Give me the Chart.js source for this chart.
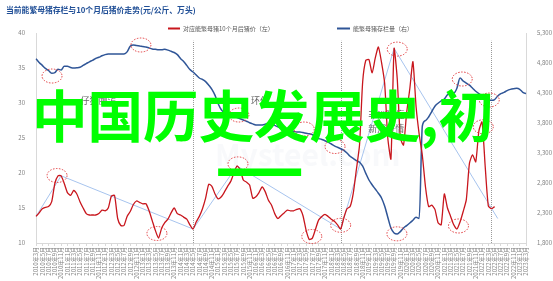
<!DOCTYPE html>
<html>
<head>
<meta charset="utf-8">
<script src="https://cdn.jsdelivr.net/npm/chart.js@4.4.0/dist/chart.umd.min.js"></script>
<style>
  html, body { margin: 0; padding: 0; background: #fff; }
</style>
</head>
<body>
<canvas id="chart" width="553" height="281"></canvas>
<script>
// Monthly categories, 2010年3月 .. 2023年3月 (every other one is labelled)
const months = [];
for (let k = 0; k <= 156; k++) {
  const t = 2 + k;
  months.push(`${2010 + Math.floor(t / 12)}年${(t % 12) + 1}月`);
}

// 对应能繁母猪10个月后猪价（左）, yuan/kg
const priceData = [
  13.8, 14.3, 14.9, 15.1, 15.2, 15.9, 18.5, 19.6, 19.6, 18.5,
  17.2, 16.8, 17.5, 17.0, 15.9, 15.0, 14.2, 14.0, 14.0, 14.0,
  14.2, 14.7, 14.6, 15.0, 16.7, 16.8, 13.5, 12.5, 12.5, 13.8,
  14.5, 15.5, 16.0, 15.8, 15.6, 15.6, 14.6, 13.2, 11.8, 10.7,
  12.1, 12.9, 13.4, 14.3, 15.0, 14.2, 14.0, 13.7, 13.4, 12.6,
  12.0, 13.0, 13.8, 14.9, 16.4, 18.4, 18.1, 17.0, 16.3, 16.6,
  17.3, 18.1, 18.8, 20.0, 21.0, 20.5, 19.0, 18.7, 18.3, 16.4,
  16.6, 17.2, 18.0, 17.3, 16.1, 15.4, 14.2, 13.5, 13.9, 14.3,
  14.7, 14.6, 14.6, 14.8, 14.9, 13.9, 11.8, 10.5, 10.7, 12.0,
  13.3, 13.8, 14.1, 13.8, 13.4, 13.1, 12.6, 12.0, 13.6, 14.9,
  15.2, 17.1, 20.5, 24.0, 33.0, 36.1, 36.2, 34.3, 36.4, 38.0,
  35.8, 32.8, 25.0, 22.0, 37.8, 33.5, 25.0, 24.0, 28.6, 32.0,
  35.9, 29.5, 25.5, 22.5, 18.0, 15.2, 15.4, 14.8, 12.9, 12.6,
  17.0, 15.0, 13.8, 12.6, 12.0, 13.0, 14.5, 16.2, 21.4, 22.6,
  21.6, 26.0, 27.3, 21.0, 15.3, 14.9, 15.2
];

// 能繁母猪存栏量（右）, 万头
const sowData = [
  4870, 4810, 4760, 4710, 4675, 4630, 4640, 4695, 4685, 4745,
  4745, 4725, 4715, 4720, 4730, 4760, 4790, 4820, 4845, 4875,
  4895, 4920, 4940, 4950, 4950, 4952, 4950, 4948, 4950, 4985,
  5080, 5100, 5090, 5085, 5075, 5068, 5050, 5035, 5028, 5020,
  5020, 5028, 5015, 4995, 4975, 4940, 4875, 4825, 4760, 4690,
  4650, 4600, 4550, 4525, 4490, 4430, 4360, 4260, 4120, 4020,
  3970, 3945, 3930, 3910, 3890, 3870, 3850, 3830, 3805, 3785,
  3768, 3765, 3767, 3780, 3800, 3785, 3760, 3735, 3710, 3690,
  3680, 3670, 3660, 3650, 3650, 3640, 3630, 3620, 3605, 3555,
  3540, 3525, 3505, 3480, 3450, 3420, 3395, 3370, 3345, 3300,
  3245, 3210, 3172, 3145, 3080, 2960, 2850, 2770, 2700, 2630,
  2550, 2415, 2230, 2050, 1967, 1950, 1990, 2050, 2090, 2133,
  2180, 2228, 2210, 3750, 3840, 3900, 3990, 4080, 4130, 4170,
  4200, 4270, 4300, 4300, 4380, 4550, 4500, 4465, 4430, 4380,
  4330, 4290, 4255, 4215, 4180, 4178, 4190, 4250, 4290, 4310,
  4340, 4360, 4372, 4378, 4362, 4310, 4290
];

// light blue trend segments joining price turning points (month index, price)
const trendIdx = [0, 8, 50, 64, 97, 114, 147];
const trendVal = [13.8, 19.6, 12.0, 21.0, 12.0, 37.8, 13.5];

// dotted vertical separators (month index)
const dividerIdx = [50, 97, 145];

// red dotted circles: month index, value, axis
const circleIdx  = [5.1, 33.4, 64.6, 85.4, 95.2, 135.7, 144.3, 114.9, 6.7, 38.5, 64.3, 87.8, 97.0, 115.0, 134.5, 142.4];
const circleVal  = [4583, 5100, 3933, 3700, 3408, 4533, 4183, 1953, 19.64, 11.36, 21.3, 10.93, 12.53, 37.7, 12.43, 26.6];
const circleAxis = ['y1', 'y1', 'y1', 'y1', 'y1', 'y1', 'y1', 'y1', 'y', 'y', 'y', 'y', 'y', 'y', 'y', 'y'];

// event notes: text, month index, price
const noteText = ['仔猪腹泻', '环保', '非洲猪瘟', '新冠疫情'];
const noteIdx  = [19.9, 71.3, 111.5, 111.5];
const noteVal  = [30.3, 30.3, 28.3, 26.3];

const titleText = '当前能繁母猪存栏与10个月后猪价走势(元/公斤、万头)';
const legendPrice = '对应能繁母猪10个月后猪价（左）';
const legendSow = '能繁母猪存栏量（右）';
const overlayText = '中国历史发展史,初';

const CJK = '"Noto Sans CJK SC", "Noto Sans", sans-serif';
const RED = '#c8161d';
const BLUE = '#2f5597';

const extras = {
  id: 'extras',
  beforeDatasetsDraw(chart) {
    const ctx = chart.ctx;
    const x = chart.scales.x, y = chart.scales.y;
    const area = chart.chartArea;
    ctx.save();
    // faint watermark
    ctx.font = `bold 30px ${CJK}`;
    ctx.fillStyle = 'rgba(215, 222, 235, 0.18)';
    ctx.textBaseline = 'alphabetic';
    ctx.fillText('Mysteel.com', 215, 166);
    // separators
    ctx.strokeStyle = '#9a9a9a';
    ctx.lineWidth = 1;
    ctx.setLineDash([1, 1]);
    dividerIdx.forEach(k => {
      const px = Math.round(x.getPixelForValue(k)) + 0.5;
      ctx.beginPath();
      ctx.moveTo(px, area.bottom);
      ctx.lineTo(px, y.getPixelForValue(38.9));
      ctx.stroke();
    });
    ctx.restore();
  },
  afterDatasetsDraw(chart) {
    const ctx = chart.ctx;
    const x = chart.scales.x;
    ctx.save();
    ctx.strokeStyle = '#e0393c';
    ctx.lineWidth = 1;
    ctx.setLineDash([1.5, 1.5]);
    circleIdx.forEach((k, j) => {
      const cx = x.getPixelForValue(k);
      const cy = chart.scales[circleAxis[j]].getPixelForValue(circleVal[j]);
      ctx.beginPath();
      ctx.ellipse(cx, cy, 10, 7, 0, 0, Math.PI * 2);
      ctx.stroke();
    });
    ctx.setLineDash([]);
    ctx.font = `9px ${CJK}`;
    ctx.fillStyle = '#666';
    ctx.textAlign = 'center';
    ctx.textBaseline = 'middle';
    noteText.forEach((t, j) => {
      ctx.fillText(t, x.getPixelForValue(noteIdx[j]), chart.scales.y.getPixelForValue(noteVal[j]));
    });
    ctx.restore();
  },
  afterDraw(chart) {
    const ctx = chart.ctx;
    ctx.save();
    // title
    ctx.font = `bold 7.8px ${CJK}`;
    ctx.fillStyle = '#1f4e96';
    ctx.textBaseline = 'middle';
    ctx.fillText(titleText, 6, 10);
    // legend
    ctx.lineWidth = 2;
    ctx.strokeStyle = RED;
    ctx.beginPath(); ctx.moveTo(168, 28.5); ctx.lineTo(180, 28.5); ctx.stroke();
    ctx.strokeStyle = BLUE;
    ctx.beginPath(); ctx.moveTo(337, 28.5); ctx.lineTo(350, 28.5); ctx.stroke();
    ctx.font = `6px ${CJK}`;
    ctx.fillStyle = '#595959';
    ctx.fillText(legendPrice, 183, 28.5);
    ctx.fillText(legendSow, 353, 28.5);
    // green overlay
    ctx.fillStyle = '#00ff00';
    ctx.font = `bold 55.5px ${CJK}`;
    ctx.textBaseline = 'middle';
    ctx.fillText(overlayText, 32, 116);
    ctx.font = `bold 80px ${CJK}`;
    ctx.textBaseline = 'alphabetic';
    const m = ctx.measureText('一');
    const w = m.actualBoundingBoxLeft + m.actualBoundingBoxRight;
    const h = m.actualBoundingBoxAscent + m.actualBoundingBoxDescent;
    ctx.translate(218, 169);
    ctx.scale(84 / w, 8 / h);
    ctx.fillText('一', m.actualBoundingBoxLeft, m.actualBoundingBoxAscent);
    ctx.restore();
  }
};

const axisColor = '#d9d9d9';
const tickFont = { family: CJK, size: 6 };

new Chart(document.getElementById('chart'), {
  type: 'line',
  data: {
    labels: months,
    datasets: [
      {
        label: legendPrice,
        data: priceData,
        yAxisID: 'y',
        borderColor: RED,
        borderWidth: 1.3,
        pointRadius: 0,
        tension: 0.2,
        fill: false
      },
      {
        label: legendSow,
        data: sowData,
        yAxisID: 'y1',
        borderColor: BLUE,
        borderWidth: 1.5,
        pointRadius: 0,
        tension: 0.3,
        cubicInterpolationMode: 'monotone',
        fill: false
      },
      {
        label: 'trend',
        data: trendIdx.map((k, j) => ({ x: months[k], y: trendVal[j] })),
        yAxisID: 'y',
        borderColor: '#a7c4ee',
        borderWidth: 1,
        pointRadius: 0,
        tension: 0,
        fill: false
      }
    ]
  },
  options: {
    responsive: false,
    animation: false,
    layout: { padding: { top: 33 } },
    plugins: {
      legend: { display: false },
      tooltip: { enabled: false }
    },
    scales: {
      x: {
        type: 'category',
        grid: { display: true, drawOnChartArea: false, tickLength: 3, color: axisColor },
        border: { color: axisColor },
        ticks: {
          autoSkip: false,
          minRotation: 90,
          maxRotation: 90,
          padding: 1,
          font: tickFont,
          color: '#808080',
          callback: (v, i) => (i % 2 === 0 ? months[i] : null)
        },
        afterFit: s => { s.height = 38; }
      },
      y: {
        position: 'left',
        min: 10,
        max: 40,
        grid: { display: false },
        border: { display: true, color: axisColor },
        ticks: { stepSize: 5, padding: 3, font: tickFont, color: '#808080' },
        afterFit: s => { s.width = 36; }
      },
      y1: {
        position: 'right',
        min: 1800,
        max: 5300,
        grid: { display: false },
        border: { display: true, color: axisColor },
        ticks: { stepSize: 500, padding: 3, font: tickFont, color: '#808080' },
        afterFit: s => { s.width = 27; }
      }
    }
  },
  plugins: [extras]
});
</script>
</body>
</html>
